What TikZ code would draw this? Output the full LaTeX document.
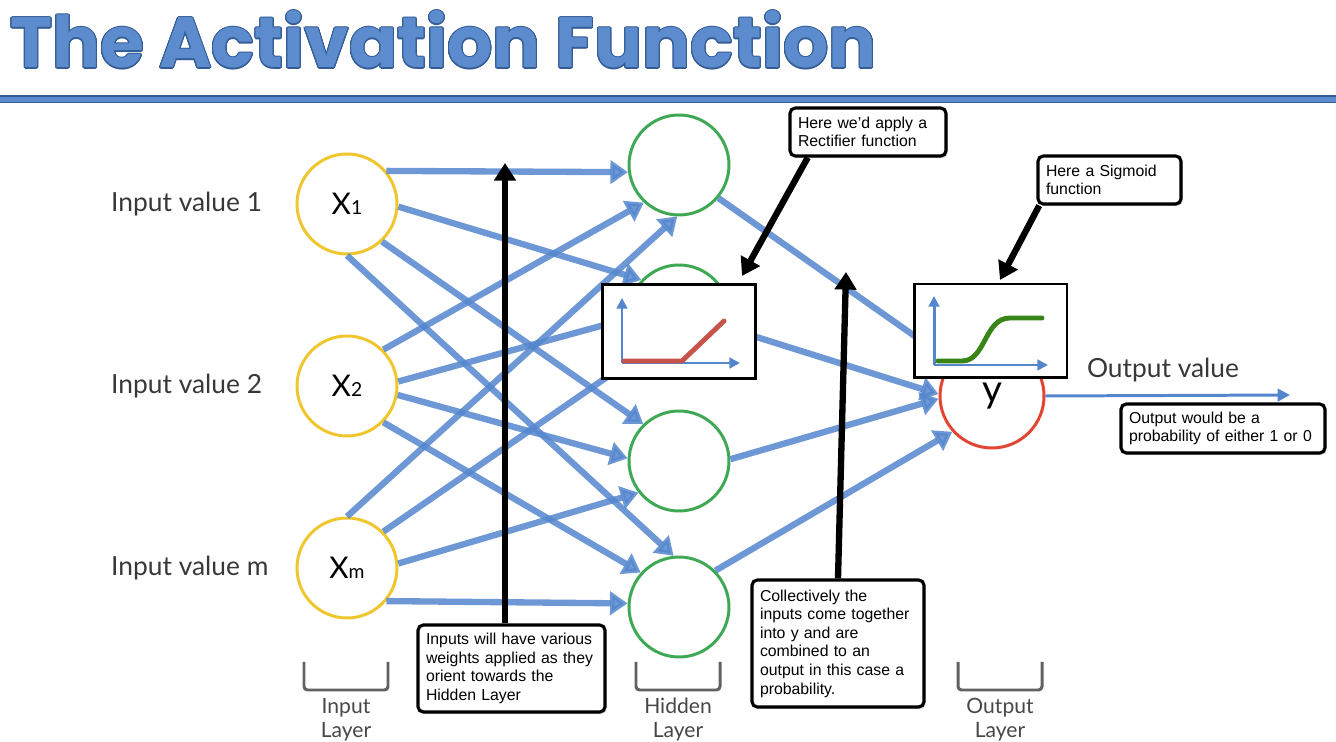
\documentclass[tikz,border=0pt]{standalone}
\usepackage{fontspec}
\usepackage{contour}
\usetikzlibrary{arrows.meta,shadows,calc}
\setmainfont{Liberation Sans}
\newfontfamily\titlefont{Poppins}
\newfontfamily\labfont{Lato}
\definecolor{titleblue}{RGB}{92,140,205}
\definecolor{titledark}{RGB}{52,92,150}
\definecolor{edgeblue}{RGB}{84,134,206}
\definecolor{inyellow}{RGB}{240,198,46}
\definecolor{hidgreen}{RGB}{62,168,84}
\definecolor{outred}{RGB}{228,68,50}
\definecolor{relured}{RGB}{198,84,74}
\definecolor{sigreen}{RGB}{56,132,22}
\contourlength{0.6pt}
\tikzset{
  inp/.style={circle,draw=inyellow,line width=1.7pt,fill=white,minimum size=2cm,inner sep=0pt,font=\labfont\fontsize{17}{17}\selectfont},
  hid/.style={circle,draw=hidgreen,line width=1.7pt,fill=white,minimum size=2cm,inner sep=0pt},
  outn/.style={circle,draw=outred,line width=1.7pt,fill=white,minimum size=2.08cm,inner sep=0pt,font=\labfont\fontsize{22}{22}\selectfont},
  wgt/.style={draw=edgeblue,opacity=0.85,line width=3.6pt,-{Triangle[width=13pt,length=10pt]}},
  pointer/.style={draw=black,line width=3.6pt,-{Triangle[width=12pt,length=10pt]}},
  plotbox/.style={draw,line width=1.7pt,fill=white,minimum width=3.06cm,minimum height=1.88cm,inner sep=0pt},
  axis/.style={draw=edgeblue,line width=1.7pt,-{Triangle[width=6pt,length=6pt]}},
  callout/.style={draw,line width=1.8pt,rounded corners=3pt,fill=white,align=left,inner xsep=0.16cm,inner ysep=0pt,
    font=\fontsize{9}{10.6}\selectfont,drop shadow={shadow xshift=1pt,shadow yshift=-1.2pt,opacity=0.35}},
  sidelab/.style={font=\labfont\fontsize{15}{15}\selectfont,text=black!78},
  layer/.style={font=\labfont\fontsize{12}{13.7}\selectfont,text=black!72,align=center},
  brack/.style={draw=black!62,line width=1.7pt,rounded corners=2pt},
}
\newcommand{\xin}[1]{X{\fontsize{11}{11}\selectfont #1}}
\begin{document}
\begin{tikzpicture}[x=0.02cm,y=-0.02cm]
        \useasboundingbox (0,0) rectangle (1336,742);
        % title
        \node[anchor=base west,inner sep=0pt] (title) at (10,68) {\titlefont\bfseries\fontsize{40.5}{40.5}\selectfont\color{titleblue}\contour{titledark}{The Activation Function}};
        \fill[titleblue] (0,96) rectangle (1336,102.5);
        \draw[titledark,line width=0.6pt] (0,96) -- (1336,96);\draw[titledark,line width=0.6pt] (0,102.5) -- (1336,102.5);
        % input layer
        \node[inp] (x1) at (347,204) {\xin{1}};
        \node[inp] (x2) at (347,386) {\xin{2}};
        \node[inp] (xm) at (347,568) {\xin{m}};
        \node[sidelab,anchor=west] (lab1) at (105,204) {Input value 1};
        \node[sidelab,anchor=west] (lab2) at (105,386) {Input value 2};
        \node[sidelab,anchor=west] (labm) at (105,568) {Input value m};
        % hidden layer
        \node[hid] (h1) at (679,165) {};
        \node[hid] (h2) at (679,315) {};
        \node[hid] (h3) at (679,461) {};
        \node[hid] (h4) at (679,607) {};
        % output
        \node[outn] (y) at (992,396) {y};
        \node[sidelab] (outlab) at (1163,370) {Output value};
        \coordinate (outtip) at (1290,395);
        % weights
        \draw[wgt] (x1.40) -- (h1.188);\draw[wgt] (x1.-3) -- (h2.137);\draw[wgt] (x1.-47) -- (h3.134);\draw[wgt] (x1.-90) -- (h4.96);
        \draw[wgt] (x2.45) -- (h1.227);\draw[wgt] (x2.5) -- (h2.184);\draw[wgt] (x2.-10) -- (h3.177);\draw[wgt] (x2.-45) -- (h4.138);
        \draw[wgt] (xm.90) -- (h1.268);\draw[wgt] (xm.45) -- (h2.226);\draw[wgt] (xm.5) -- (h3.218);\draw[wgt] (xm.-40) -- (h4.176);
        \draw[wgt] (h1.-40) -- (y.140);\draw[wgt] (h2.-15) -- (y.178);
        \draw[wgt] (h3.2) -- (y.183);\draw[wgt] (h4.45) -- (y.222);
        \draw[draw=edgeblue,line width=1.7pt,-{Triangle[width=7pt,length=7pt]}] (y.east) -- (outtip);
        % rectifier plot
        \node[plotbox] (relu) at (679,331.5) {};
        \draw[axis] (622,363) -- (622,298);\draw[axis] (622,363) -- (740,363);
        \draw[relured,line width=2.8pt,line cap=round] (624,361) -- (682,361) -- (724,321);
        % sigmoid plot
        \node[plotbox] (sigm) at (990.5,331) {};
        \draw[axis] (934,365) -- (934,296);\draw[axis] (934,365) -- (1048,365);
        \draw[sigreen,line width=2.8pt,line cap=round] (938,361) -- (962,361) .. controls (986,361) and (984,318) .. (1010,318) -- (1042,318);
        % brackets
        \draw[brack] (304,662) -- (304,690) -- (388,690) -- (388,662);
        \draw[brack] (636,662) -- (636,690) -- (720,690) -- (720,662);
        \draw[brack] (958,662) -- (958,690) -- (1042,690) -- (1042,662);
        \node[layer] (layin) at (346,720) {Input\\Layer};
        \node[layer] (layhid) at (678,720) {Hidden\\Layer};
        \node[layer] (layout) at (1000,720) {Output\\Layer};
        % notes
        \node[callout,text width=2.8cm,minimum height=0.96cm] (rect) at (868,132) {Here we'd apply a\\Rectifier function};
        \node[callout,text width=2.54cm,minimum height=0.96cm] (sig) at (1109.5,180) {Here a Sigmoid\\function};
        \node[callout,text width=3.76cm,minimum height=0.98cm] (outc) at (1223,428.5) {Output would be a\\probability of either 1 or 0};
        \node[callout,text width=3.42cm,minimum height=1.74cm] (wts) at (511.5,668.5) {Inputs will have various\\weights applied as they\\orient towards the\\Hidden Layer};
        \node[callout,text width=3.12cm,minimum height=2.54cm] (coll) at (838,643.5) {Collectively the\\inputs come together\\into y and are\\combined to an\\output in this case a\\probability.};
        % pointers
        \coordinate (wtip) at (505,163);\coordinate (ctip) at (846,272);
        \coordinate (rtip) at (742,276);\coordinate (stip) at (1000,280);
        \draw[pointer] (wtip |- wts.north) -- (wtip);\draw[pointer] (coll.north) -- (ctip);
        \draw[pointer] (rect.203) -- (rtip);\draw[pointer] (sig.200) -- (stip);
\end{tikzpicture}
\end{document}
